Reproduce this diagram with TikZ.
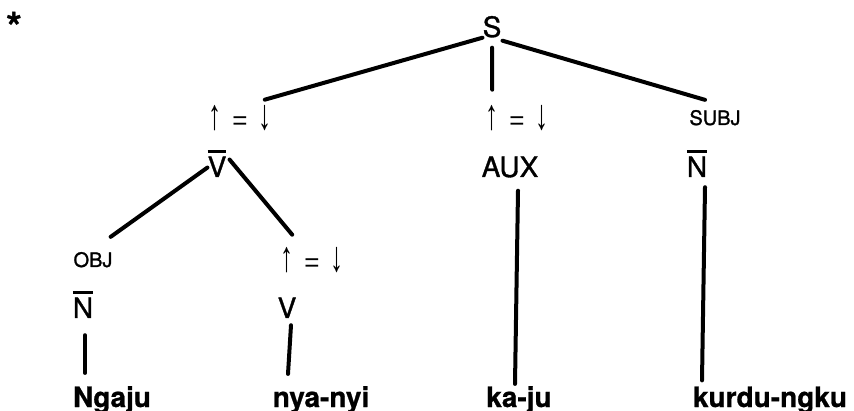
\documentclass[tikz,border=0pt]{standalone}
\usepackage{fontspec}
\setmainfont{TeX Gyre Heros}
\newfontfamily\catfont[FakeBold=1.2]{TeX Gyre Heros}
\newfontfamily\wordfont[FakeBold=0.8]{TeX Gyre Heros Bold}
\newfontfamily\arrowfont{Liberation Sans}
\newcommand{\catbar}[1]{\leavevmode\vbox{\hrule height 2.5pt\kern 4pt\hbox{#1}}}
\newcommand{\tallarrow}[1]{\scalebox{1}[1.65]{\bfseries #1}}
\newcommand{\upisdown}{\tallarrow{↑}\hspace{11pt}=\hspace{11pt}\tallarrow{↓}}

\begin{document}
\begin{tikzpicture}[x=1pt, y=-1pt]

\tikzstyle{cat} = [inner sep=0pt, anchor=base, font=\catfont\fontsize{28}{30}\selectfont]
\tikzstyle{fn} = [inner sep=0pt, anchor=base, font=\catfont\fontsize{20}{22}\selectfont]
\tikzstyle{eqn} = [inner sep=0pt, anchor=base, font=\arrowfont\fontsize{26}{28}\selectfont]
\tikzstyle{word} = [inner sep=0pt, anchor=base, font=\wordfont\fontsize{28}{30}\selectfont]
\tikzstyle{branch} = [line width=4pt, line cap=round]

\useasboundingbox (0,0) rectangle (854,411);

\node (star) [word, font=\wordfont\fontsize{40}{42}\selectfont] at (14,41) {*};

% Top of tree
\node (S) [cat] at (492,37) {S};
\node (eq1) [eqn] at (240,130) {\upisdown};
\node (eq2) [eqn] at (517,130) {\upisdown};
\node (subj) [fn] at (715,125) {SUBJ};

\draw [branch] (S.south west) -- ([shift={(-7,-6)}]eq1.north east);
\draw [branch, shorten <=10pt] (S.south) -- ([shift={(7,-16)}]eq2.north west);
\draw [branch] ([shift={(1,3)}]S.south east) -- ([shift={(-10,-10)}]subj.north);

% Second level
\node (Vbar) [cat] at (217,177) {\catbar{V}};
\node (aux) [cat] at (510,177) {AUX};
\node (Nsubj) [cat] at (697,177) {\catbar{N}};

% Verb group
\node (obj) [fn] at (93,267) {OBJ};
\node (eq3) [eqn] at (312,272) {\upisdown};
\node (Nobj) [cat] at (83,318) {\catbar{N}};
\node (V) [cat] at (287,318) {V};

\draw [branch] ([yshift=-4pt]Vbar.west) -- ([shift={(-2,-15)}]obj.north east);
\draw [branch] ([shift={(3,-4)}]Vbar.east) -- ([shift={(12,-13)}]eq3.north west);

% Words
\node (ngaju) [word] at (112,407) {Ngaju};
\node (nyanyi) [word] at (321,407) {nya-nyi};
\node (kaju) [word] at (519,407) {ka-ju};
\node (kurdu) [word] at (770,407) {kurdu-ngku};

\draw [branch] ([shift={(2,17)}]Nobj.south) -- ([shift={(-27,-13)}]ngaju.north);
\draw [branch] ([shift={(4,7)}]V.south) -- ([shift={(-33,-12)}]nyanyi.north);
\draw [branch] ([shift={(8,13)}]aux.south) -- ([shift={(-4,-2)}]kaju.north);
\draw [branch] ([shift={(8,10)}]Nsubj.south) -- ([shift={(-68,-6)}]kurdu.north);

\end{tikzpicture}
\end{document}
